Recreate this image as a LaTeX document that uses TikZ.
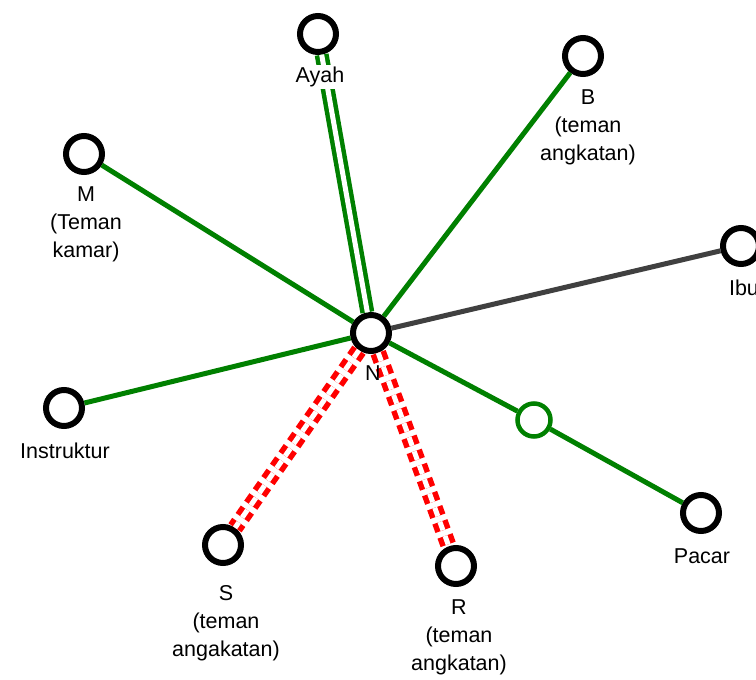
\documentclass[tikz,border=0pt]{standalone}
\usepackage{fontspec}
\setmainfont{Liberation Sans}
\definecolor{grn}{HTML}{008000}
\definecolor{dgray}{HTML}{404040}
\definecolor{rd}{HTML}{FF0000}
\begin{document}
\begin{tikzpicture}[x=1pt,y=-1pt,
  pers/.style={circle,draw=black,line width=6pt,fill=white,minimum size=36pt,inner sep=0pt},
  midc/.style={circle,draw=grn,line width=4.5pt,fill=white,minimum size=33pt,inner sep=0pt},
  lbl/.style={inner sep=0pt,anchor=north,align=center,font=\fontsize{21.5}{28}\selectfont},
  gline/.style={draw=grn,line width=5pt},
  kline/.style={draw=dgray,line width=5pt},
  dline/.style={draw=grn,double=white,double distance=5pt,line width=4.5pt},
  rline/.style={draw=rd,double=white,double distance=5pt,line width=5.5pt,dash pattern=on 9pt off 6pt}
]
\fill[white] (0,0) rectangle (756,680);
\useasboundingbox (0,0) rectangle (756,680);

% nodes
\node[pers] (N) at (371,333) {};
\node[pers] (Ayah) at (318,34) {};
\node[pers] (B) at (583,56) {};
\node[pers] (M) at (84,154) {};
\node[pers] (Ibu) at (741,246) {};
\node[pers] (Ins) at (64,408) {};
\node[midc] (Mid) at (534,420) {};
\node[pers] (Pacar) at (701,513) {};
\node[pers] (S) at (223,545) {};
\node[pers] (R) at (456,566) {};

% connectors
\draw[dline] (N) -- (Ayah);
\draw[gline] (N) -- (B);
\draw[gline] (N) -- (M);
\draw[kline] (N) -- (Ibu);
\draw[gline] (N) -- (Ins);
\draw[gline] (N) -- (Mid);
\draw[gline] (Mid) -- (Pacar);
\draw[rline] (N) -- (S);
\draw[rline] (N) -- (R);

% labels
\node[lbl,fill=white,inner sep=2pt] (lAyah) at (320,65) {Ayah};
\node[lbl] (lB) at (588,90) {B\\(teman\\angkatan)};
\node[lbl] (lM) at (86,187) {M\\(Teman\\kamar)};
\node[lbl] (lIbu) at (744,280) {Ibu};
\node[lbl] (lN) at (373,366) {N};
\node[lbl] (lIns) at (65,443) {Instruktur};
\node[lbl] (lPacar) at (702,549) {Pacar};
\node[lbl] (lS) at (226,585) {S\\(teman\\angakatan)};
\node[lbl] (lR) at (459,600) {R\\(teman\\angkatan)};
\end{tikzpicture}
\end{document}
